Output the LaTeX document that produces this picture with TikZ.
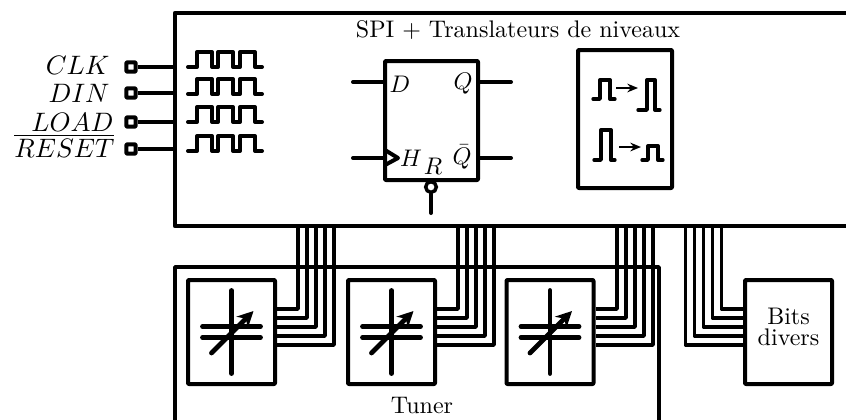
\documentclass[tikz,border=0pt]{standalone}
\usetikzlibrary{arrows.meta}
\tikzset{
  thick line/.style={line width=3.6pt,line join=round,line cap=round},
  mid line/.style={line width=3pt,line join=round,line cap=round},
  bus/.style={line width=2.8pt,line join=round},
  pulse/.style={line width=2.5pt,line join=round,line cap=round},
  boxline/.style={draw,line width=3pt,line join=round,rounded corners=0.6pt,inner sep=0pt},
  txt/.style={inner sep=0pt,scale=1.8,transform shape},
  mathtxt/.style={inner sep=0pt,scale=2,transform shape},
  fftxt/.style={inner sep=0pt,scale=1.8,transform shape},
  wave/.pic={\draw[mid line] (0,0)--(9,0)--(9,-15)--(24,-15)--(24,0)--(30,0)--(30,-15)--(45,-15)--(45,0)--(52,0)--(52,-15)--(67,-15)--(67,0)--(74,0);},
  vcap/.pic={
    \draw[thick line] (0,-41.5)--(0,41.5);
    \draw[thick line] (-29,-5.5)--(29,-5.5);
    \draw[thick line] (-29,5.5)--(29,5.5);
    \draw[thick line,-{Stealth[length=12pt,width=12pt]}] (-20,21)--(22,-21);
  },
}
\begin{document}
\begin{tikzpicture}[x=0.75pt,y=-0.75pt]
\useasboundingbox (0,0) rectangle (846,419);
% main box
\coordinate (mtr) at (846,13);
\coordinate (mbr) at (846,226);
\coordinate (mtl) at (175,13);
\coordinate (mbl) at (175,226);
\draw[line width=3.2pt,line join=round] (mtr)--(mtl)--(mbl)--(mbr);
\node[txt] (title) at (518,30) {SPI + Translateurs de niveaux};
% inputs
\foreach \n/\y/\ly/\lx/\t in {clk/67/65/110/CLK,din/93/93/110/DIN,load/122/122/114/LOAD}{
  \node[boxline,minimum size=7pt] (p\n) at (131,\y) {};
  \node[mathtxt,anchor=east] (l\n) at (\lx,\ly) {$\t$};
  \draw[thick line,line cap=butt] (p\n.east) -- (175,\y);
}
\node[boxline,minimum size=7pt] (preset) at (131,149) {};
\node[mathtxt,anchor=east] (lreset) at (115,146) {$\overline{RESET}$};
\draw[thick line,line cap=butt] (preset.east) -- (175,149);
% waves
\foreach \y in {67,94,122,151} \pic at (188,\y) {wave};
% flip-flop
\node[boxline,minimum width=93pt*0.75,minimum height=119pt*0.75] (ff) at (431.5,120.5) {};
\coordinate (dl) at (353,82); \coordinate (dr) at (ff.west|-dl);
\coordinate (hl) at (353,158); \coordinate (hr) at (ff.west|-hl);
\coordinate (ql) at (ff.east|-dl); \coordinate (qr) at (511,82);
\coordinate (nl) at (ff.east|-hl); \coordinate (nr) at (511,158);
\draw[mid line] (dl)--(dr);
\draw[mid line] (hl)--(hr);
\draw[mid line] (ql)--(qr);
\draw[mid line] (nl)--(nr);
\draw[mid line,line cap=butt] (385,150)--(398,158)--(385,165);
\node[fftxt] (fd) at (400,84) {$D$};
\node[fftxt] (fq) at (463,84) {$Q$};
\node[fftxt] (fh) at (411,158) {$H$};
\node[fftxt] (fr) at (433,166) {$R$};
\node[fftxt] (fn) at (462,157) {$\bar Q$};
\node[draw,circle,line width=2.6pt,minimum size=8pt,inner sep=0pt] (bub) at (431,187) {};
\coordinate (rb) at (431,213);
\draw[mid line] (bub.south)--(rb);
% translator
\node[boxline,minimum width=94pt*0.75,minimum height=138pt*0.75] (tr) at (625,119) {};
\draw[pulse] (593,99)--(600,99)--(600,80)--(610,80)--(610,99)--(615,99);
\draw[pulse] (638,110)--(647,110)--(647,80)--(655,80)--(655,110)--(660,110);
\draw[pulse] (594,160)--(601,160)--(601,130)--(611,130)--(611,160)--(615,160);
\draw[pulse] (642,160)--(648,160)--(648,146)--(658,146)--(658,160)--(663,160);
\draw[line width=1.5pt,-{Stealth[length=8pt,width=6.5pt]}] (616,88)--(638,88);
\draw[line width=1.5pt,-{Stealth[length=8pt,width=6.5pt]}] (619,147)--(641,147);
% tuner
\coordinate (ttl) at (175,267); \coordinate (ttr) at (659,267);
\coordinate (tbl) at (175,425); \coordinate (tbr) at (659,425);
\draw[line width=2.8pt,line join=round] (tbl)--(ttl)--(ttr)--(tbr);
\node[txt] (tuner) at (422,405) {Tuner};
% cap boxes
\foreach \n/\x in {a/231.5,b/391.5,c/550}{
  \node[boxline,minimum width=87pt*0.75,minimum height=104pt*0.75] (\n) at (\x,332) {};
  \pic at (\x,332) {vcap};
}
\node[boxline,minimum width=87pt*0.75,minimum height=104pt*0.75] (bits) at (788.5,332) {};
\node[txt,align=center,font=\fontsize{10}{8.75}\selectfont] (bitstxt) at (788.5,326.5) {Bits\\divers};
% buses
\foreach \n/\x in {a/298,b/458,c/617}{
  \foreach \i in {0,...,4}{
    \draw[bus] (\n.east|-0,309+9*\i) -- (\x+9*\i,309+9*\i) -- (\x+9*\i,226);
  }
}
\foreach \i in {0,...,4}{
  \draw[bus] (bits.west|-0,309+9*\i) -- (721.5-9*\i,309+9*\i) -- (721.5-9*\i,226);
}
\end{tikzpicture}
\end{document}
